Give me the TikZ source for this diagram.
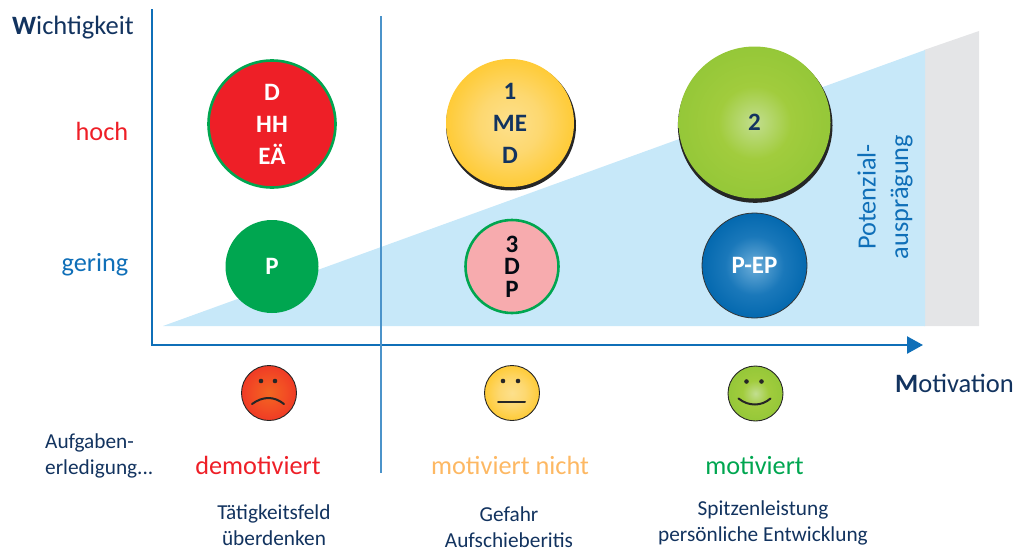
\documentclass[tikz,border=0pt]{standalone}
\usepackage{fontspec}
\setmainfont{Carlito}
\usetikzlibrary{arrows.meta}
\definecolor{navy}{HTML}{12335F}
\definecolor{axisblue}{HTML}{0F6FB8}
\definecolor{wedge}{HTML}{C7E8F9}
\definecolor{wedgegrey}{HTML}{E4E5E7}
\definecolor{redc}{HTML}{EE1F27}
\definecolor{greenc}{HTML}{00A650}
\definecolor{pinkc}{HTML}{F7ABAE}
\definecolor{orangetxt}{HTML}{FDB863}
\definecolor{ya}{HTML}{FDE08C}
\definecolor{yb}{HTML}{FDD870}
\definecolor{yc}{HTML}{FFC92E}
\definecolor{yd}{HTML}{F79E1B}
\definecolor{ga}{HTML}{C2DE8F}
\definecolor{gb}{HTML}{A1CC3D}
\definecolor{gc}{HTML}{94C738}
\definecolor{gd}{HTML}{73B83D}
\definecolor{ba}{HTML}{6BADD9}
\definecolor{bb}{HTML}{1A78BA}
\definecolor{bc}{HTML}{0066AD}
\definecolor{bd}{HTML}{053361}
\definecolor{ra}{HTML}{F26621}
\definecolor{rb}{HTML}{F24D24}
\definecolor{rc}{HTML}{ED2926}
\pgfdeclareradialshading{ballyellow}{\pgfpoint{0bp}{0bp}}{color(0bp)=(ya); color(12bp)=(yb); color(27bp)=(yc); color(35bp)=(yd); color(50bp)=(yd)}
\pgfdeclareradialshading{ballgreen}{\pgfpoint{0bp}{0bp}}{color(0bp)=(ga); color(12bp)=(gb); color(26bp)=(gc); color(35bp)=(gd); color(50bp)=(gd)}
\pgfdeclareradialshading{ballblue}{\pgfpoint{0bp}{0bp}}{color(0bp)=(ba); color(14bp)=(bb); color(27bp)=(bc); color(35bp)=(bd); color(50bp)=(bd)}
\pgfdeclareradialshading{ballred}{\pgfpoint{0bp}{0bp}}{color(0bp)=(ra); color(15bp)=(rb); color(35bp)=(rc); color(50bp)=(rc)}
\tikzset{
  ball/.style={circle,inner sep=0pt,align=center,font=\fontsize{25}{32}\selectfont\bfseries,text=navy},
  lbl/.style={inner sep=0pt,anchor=base,text=navy},
  big/.style={font=\fontsize{26.3}{30}\selectfont},
  axis title/.style={font=\fontsize{26.5}{30}\selectfont},
  small/.style={font=\fontsize{21.3}{25.5}\selectfont,align=center},
  feat/.style={line width=2pt,line cap=round,draw=black!85},
  eye/.style={fill=black!85},
  smiley/.style={circle,minimum size=55pt,inner sep=0pt,draw=black!85,line width=0.9pt},
  dividerline/.style={draw=axisblue!75!white,line width=2.2pt},
}
\begin{document}
\begin{tikzpicture}[x=1pt,y=-1pt]
\useasboundingbox (0,0) rectangle (1021,547);
% wedge
\fill[wedgegrey] (924,50) -- (979,31) -- (979,326) -- (924,326) -- cycle;
\fill[wedge] (163,326) -- (925,50) -- (925,326) -- cycle;
% axes
\coordinate (yTop) at (152,9);
\coordinate (org) at (152,345);
\coordinate (xEnd) at (923,345);
\draw[axisblue,line width=2.4pt,-{Triangle[length=16pt,width=17pt]}] (yTop) -- (org) -- (xEnd);
% divider
\coordinate (divT) at (381,16);
\coordinate (divB) at (381,473);
\draw[dividerline] (divT) -- (divB);
% balls
\node[ball,minimum size=127pt,fill=redc,draw=greenc,line width=2.6pt,text=white] (rd) at (272,124) {D\\HH\\EÄ};
\node[ball,minimum size=93pt,fill=greenc,text=white] (pg) at (272,266.5) {P};
\fill[black!85] (511,125.5) circle (65pt);
\node[ball,minimum size=128pt,shading=ballyellow] (ye) at (510,123) {1\\ME\\D};
\fill[black!85] (755.2,125.5) circle (77.3pt);
\node[ball,minimum size=152pt,shading=ballgreen] (gr) at (754.5,122.5) {2};
\node[ball,minimum size=93pt,fill=pinkc,draw=greenc,line width=2.6pt,text=black!80!navy,font=\fontsize{25}{22.5}\selectfont\bfseries] (pk) at (512,266.5) {3\\D\\P};
\node[ball,minimum size=105pt,shading=ballblue,draw=black!80,line width=0.8pt,text=white] (bl) at (754.5,265.5) {P-EP};
% axis labels
\node[lbl,anchor=base west,axis title] (wi) at (12,34) {\textbf{W}ichtigkeit};
\node[lbl,anchor=base west,axis title] (mo) at (895,392) {\textbf{M}otivation};
\node[lbl,anchor=base east,big,text=redc] (ho) at (128.5,140) {hoch};
\node[lbl,anchor=base east,big,text=axisblue] (ge) at (128.5,271) {gering};
\node[rotate=90,inner sep=0pt,align=center,text=axisblue,font=\fontsize{26.3}{32.5}\selectfont] (po) at (885,197) {Potenzial-\\ausprägung};
% smileys
\node[smiley,shading=ballred] (s1) at (269,393) {};
\node[smiley,shading=ballyellow] (s2) at (512,393) {};
\node[smiley,shading=ballgreen] (s3) at (755.5,393.5) {};
\fill[eye] ([shift={(-8,-12)}]s1.center) circle (2.3pt) ([shift={(6,-12)}]s1.center) circle (2.3pt);
\draw[feat] ([shift={(-17,11)}]s1.center) .. controls ([shift={(-6,3)}]s1.center) and ([shift={(5,3)}]s1.center) .. ([shift={(15,11)}]s1.center);
\fill[eye] ([shift={(-9,-12)}]s2.center) circle (2.3pt) ([shift={(6,-12)}]s2.center) circle (2.3pt);
\draw[feat] ([shift={(-14,9)}]s2.center) -- ([shift={(13,9)}]s2.center);
\fill[eye] ([shift={(-9,-12)}]s3.center) circle (2.3pt) ([shift={(6,-12)}]s3.center) circle (2.3pt);
\draw[feat] ([shift={(-17,5)}]s3.center) .. controls ([shift={(-7,13)}]s3.center) and ([shift={(6,13)}]s3.center) .. ([shift={(15,5)}]s3.center);
% bottom
\node[lbl,small,align=left,anchor=west] (au) at (45,456) {Aufgaben-\\erledigung...};
\node[lbl,big,text=redc] (t1) at (258,474) {demotiviert};
\node[lbl,big,text=orangetxt] (t2) at (510,474) {motiviert nicht};
\node[lbl,big,text=greenc] (t3) at (754.5,474) {motiviert};
\node[lbl,small,anchor=center] (d1) at (274,525) {Tätigkeitsfeld\\überdenken};
\node[lbl,small,anchor=center] (d2) at (509,527) {Gefahr\\Aufschieberitis};
\node[lbl,small,anchor=center] (d3) at (763,523) {Spitzenleistung\\persönliche Entwicklung};
\end{tikzpicture}
\end{document}
